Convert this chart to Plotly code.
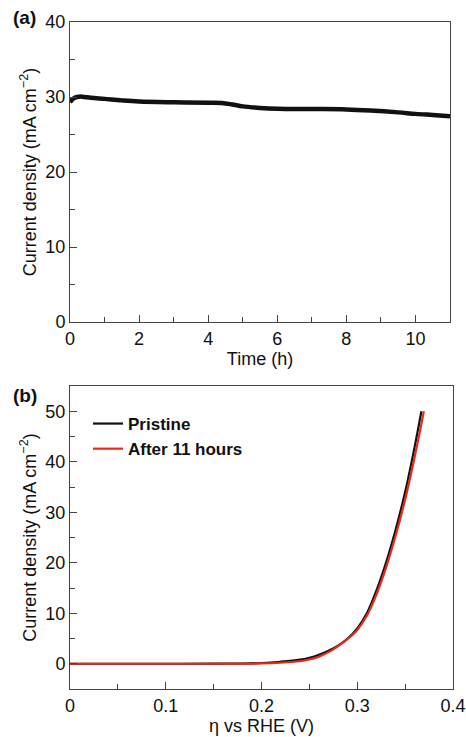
import plotly.graph_objects as go

# Panel (a): chronoamperometry
time_h = [0, 0.1, 0.2, 0.35, 0.6, 1, 1.5, 2, 3, 4, 4.4, 4.7, 5, 5.5, 6, 7, 8, 8.7, 9.5, 10, 10.5, 11]
j_time = [29.3, 29.8, 30.0, 30.05, 29.9, 29.75, 29.55, 29.4, 29.3, 29.25, 29.2, 29.0, 28.75, 28.55, 28.45,
          28.4, 28.35, 28.2, 27.95, 27.75, 27.6, 27.45]

# Panel (b): polarization curves
v_pristine = [0, 0.05, 0.1, 0.15, 0.18, 0.2, 0.22, 0.24, 0.25, 0.26, 0.27, 0.28, 0.29, 0.30, 0.31, 0.32,
              0.33, 0.34, 0.35, 0.36, 0.367]
j_pristine = [0, 0, 0, 0.02, 0.05, 0.15, 0.4, 0.8, 1.2, 1.8, 2.6, 3.6, 5.0, 7.0, 10.0, 14.5,
              20, 26.5, 34, 43, 50]
v_after = [0, 0.05, 0.1, 0.15, 0.18, 0.2, 0.22, 0.24, 0.25, 0.26, 0.27, 0.28, 0.29, 0.30, 0.31, 0.32,
           0.33, 0.34, 0.35, 0.36, 0.367, 0.3695]
j_after = [0, 0, 0, 0, 0.02, 0.06, 0.2, 0.5, 0.85, 1.4, 2.3, 3.5, 4.9, 6.7, 9.5, 13.7,
           19, 25.3, 32.5, 41, 47.5, 50]

W, H = 466, 737
FONT = "Liberation Sans, Arial, sans-serif"
AX = "#444444"

fig = go.Figure()
fig.add_trace(go.Scatter(x=time_h, y=j_time, mode="lines", line=dict(color="#111111", width=4.5, shape="spline"),
                         showlegend=False, xaxis="x", yaxis="y"))
fig.add_trace(go.Scatter(x=v_pristine, y=j_pristine, mode="lines", name="<b>Pristine</b>",
                         line=dict(color="#111111", width=2.2, shape="spline"), xaxis="x2", yaxis="y2"))
fig.add_trace(go.Scatter(x=v_after, y=j_after, mode="lines", name="<b>After 11 hours</b>",
                         line=dict(color="#e8291c", width=2.2, shape="spline"), xaxis="x2", yaxis="y2"))

def px_x(p):
    return p / W

def px_y(p):
    return 1 - p / H

common = dict(showline=True, mirror=True, linecolor=AX, linewidth=1, ticks="inside", tickcolor=AX,
              ticklen=7, tickwidth=1, showgrid=False, zeroline=False, automargin=False,
              tickfont=dict(family=FONT, size=18, color="#111111"),
              title_font=dict(family=FONT, size=18, color="#111111"))

fig.update_layout(
    width=W, height=H, margin=dict(l=0, r=0, t=0, b=0),
    paper_bgcolor="white", plot_bgcolor="white",
    xaxis=dict(domain=[px_x(70), px_x(450)], range=[0, 11], dtick=2, anchor="y",
               minor=dict(ticks="inside", dtick=1, ticklen=5, tickcolor=AX),
               title=dict(text="Time (h)", standoff=2), **common),
    yaxis=dict(domain=[px_y(322), px_y(22)], range=[0, 40], dtick=10, anchor="x",
               minor=dict(ticks="inside", dtick=5, ticklen=5, tickcolor=AX),
               title=dict(text="Current density (mA cm<sup>−2</sup>)", standoff=4), **common),
    xaxis2=dict(domain=[px_x(70), px_x(453)], range=[0, 0.4], anchor="y2",
                tickvals=[0, 0.1, 0.2, 0.3, 0.4], ticktext=["0", "0.1", "0.2", "0.3", "0.4"],
                minor=dict(ticks="inside", dtick=0.05, ticklen=5, tickcolor=AX),
                title=dict(text="η vs RHE (V)", standoff=2), **common),
    yaxis2=dict(domain=[px_y(689), px_y(386)], range=[-5, 55], tickvals=[0, 10, 20, 30, 40, 50], anchor="x2",
                minor=dict(ticks="inside", dtick=5, ticklen=5, tickcolor=AX),
                title=dict(text="Current density (mA cm<sup>−2</sup>)", standoff=4), **common),
    legend=dict(x=px_x(88), y=px_y(406), xanchor="left", yanchor="top", bgcolor="rgba(0,0,0,0)",
                font=dict(family=FONT, size=17, color="#111111"), tracegroupgap=0, itemwidth=30),
    annotations=[
        dict(text="<b>(a)</b>", x=px_x(11), y=px_y(17), xref="paper", yref="paper", xanchor="left",
             yanchor="middle", showarrow=False, font=dict(family=FONT, size=19, color="#111111")),
        dict(text="<b>(b)</b>", x=px_x(11), y=px_y(395), xref="paper", yref="paper", xanchor="left",
             yanchor="middle", showarrow=False, font=dict(family=FONT, size=19, color="#111111")),
    ],
)

fig.write_html("out.html", config={"displayModeBar": False},
               post_script="document.body.style.margin='0';document.body.style.overflow='hidden';")
